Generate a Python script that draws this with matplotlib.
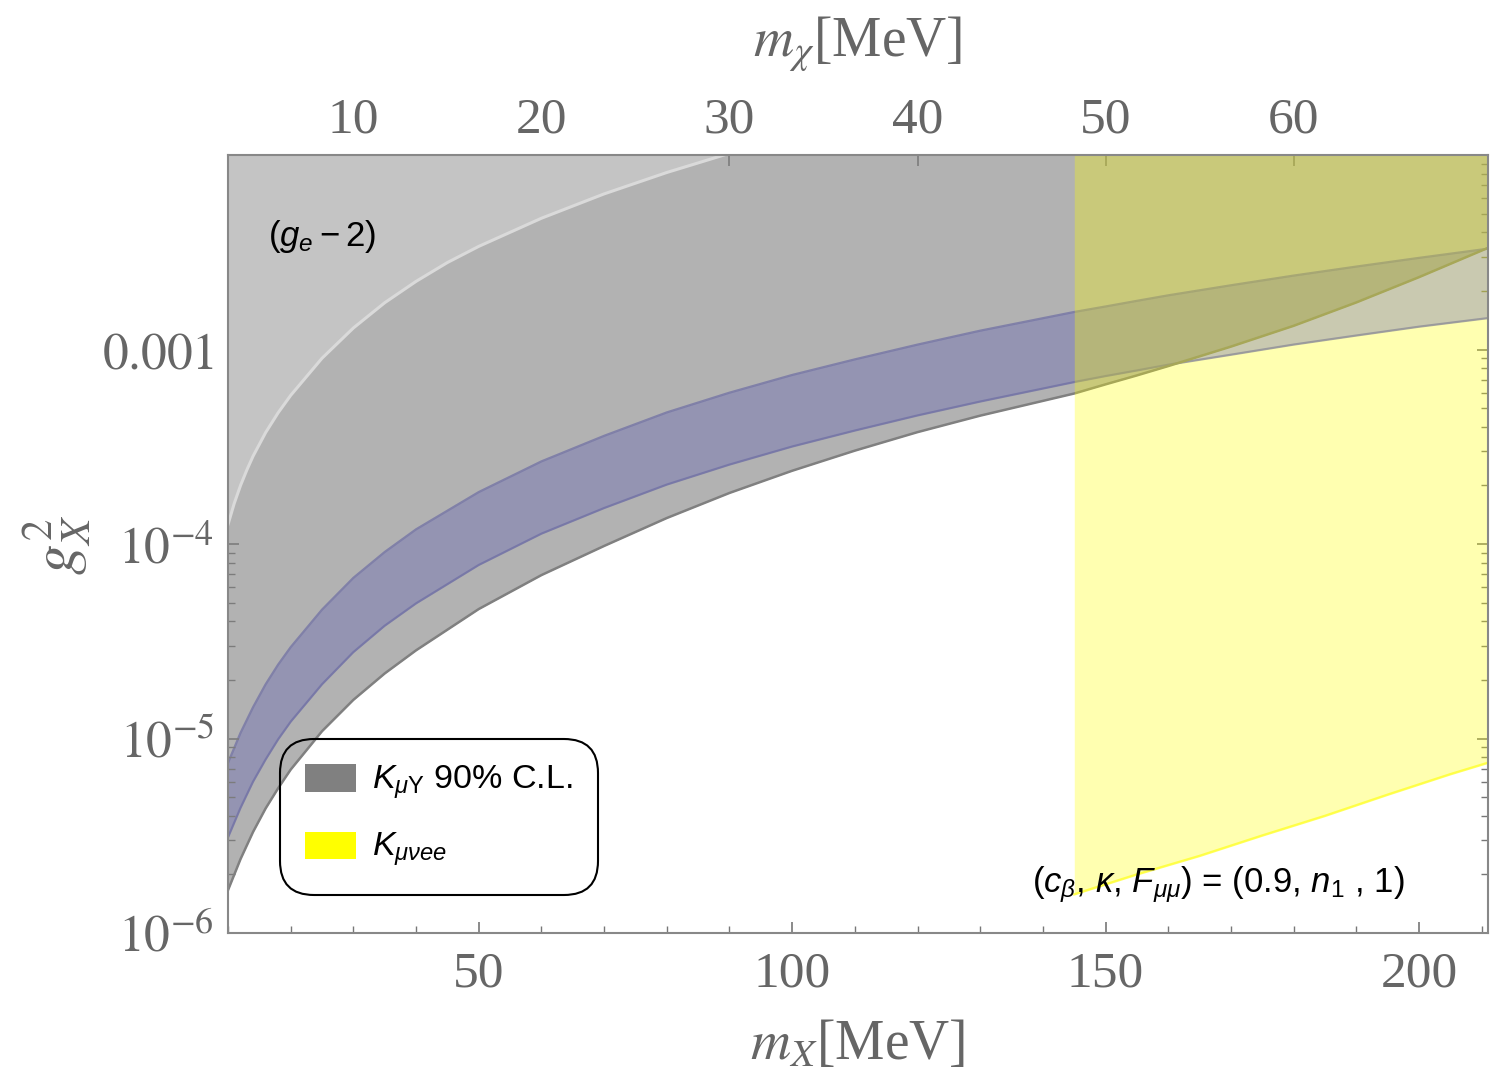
import numpy as np
import matplotlib
matplotlib.use('Agg')
import matplotlib.pyplot as plt
from matplotlib.patches import Patch
from matplotlib.ticker import FixedLocator, LogLocator, MultipleLocator, NullLocator, NullFormatter

plt.rcParams['font.family'] = ['Liberation Sans', 'DejaVu Sans']
plt.rcParams['mathtext.fontset'] = 'custom'
plt.rcParams['mathtext.rm'] = 'Liberation Sans'
plt.rcParams['mathtext.it'] = 'Liberation Sans:italic'
plt.rcParams['mathtext.bf'] = 'Liberation Sans:bold'

# datos (m_X en MeV, g_X^2)
mx = [10, 12, 14, 16, 18, 20, 25, 30, 35, 40, 50, 60, 70, 80, 90, 100,
      110, 120, 130, 145, 150, 155, 160, 170, 180, 190, 200, 211]
banda_sup = [7.5e-6, 1.07e-5, 1.45e-5, 1.9e-5, 2.4e-5, 2.95e-5, 4.6e-5, 6.7e-5,
             9.1e-5, 1.19e-4, 1.85e-4, 2.66e-4, 3.6e-4, 4.75e-4, 6.0e-4, 7.4e-4,
             8.9e-4, 1.06e-3, 1.25e-3, 1.56e-3, 1.665e-3, 1.78e-3, 1.9e-3, 2.14e-3,
             2.4e-3, 2.67e-3, 2.96e-3, 3.3e-3]
banda_inf = [3.1e-6, 4.4e-6, 6.0e-6, 7.8e-6, 9.9e-6, 1.22e-5, 1.9e-5, 2.78e-5,
             3.8e-5, 4.95e-5, 7.8e-5, 1.13e-4, 1.53e-4, 2.02e-4, 2.56e-4, 3.17e-4,
             3.83e-4, 4.58e-4, 5.4e-4, 6.8e-4, 7.3e-4, 7.8e-4, 8.35e-4, 9.4e-4,
             1.06e-3, 1.18e-3, 1.31e-3, 1.45e-3]
kmug_inf = [1.66e-6, 2.4e-6, 3.31e-6, 4.37e-6, 5.55e-6, 6.92e-6, 1.09e-5, 1.58e-5,
            2.16e-5, 2.84e-5, 4.63e-5, 6.92e-5, 9.77e-5, 1.36e-4, 1.83e-4, 2.38e-4,
            3.02e-4, 3.76e-4, 4.57e-4, 5.94e-4, 6.62e-4, 7.36e-4, 8.22e-4, 1.035e-3,
            1.324e-3, 1.746e-3, 2.355e-3, 3.33e-3]

mx_ge = [10, 11, 12, 13, 14, 16, 18, 20, 25, 30, 35, 40, 45, 50, 60, 70, 80, 90]
ge2 = [1.26e-4, 1.62e-4, 2.0e-4, 2.4e-4, 2.83e-4, 3.74e-4, 4.73e-4, 5.81e-4, 9.02e-4,
       1.29e-3, 1.74e-3, 2.24e-3, 2.8e-3, 3.39e-3, 4.73e-3, 6.31e-3, 8.13e-3, 1.02e-2]

mx_kee = [145, 155, 165, 175, 185, 195, 205, 211]
kee_inf = [1.58e-6, 2.0e-6, 2.49e-6, 3.17e-6, 4.0e-6, 5.14e-6, 6.55e-6, 7.5e-6]

ytop = 1e-2
ymin = 1e-6
gris_txt = '#666666'

fig = plt.figure(figsize=(15, 10.86), dpi=100)
ax = fig.add_axes([228/1500, 1-933/1086, 1260/1500, 778/1086])

# banda azul
ax.fill_between(mx, banda_inf, banda_sup, color='#0000ff', alpha=0.3, lw=0, zorder=1)
ax.plot(mx, banda_sup, color='#5050d8', alpha=0.7, lw=1.6, zorder=1.1)
ax.plot(mx, banda_inf, color='#5050d8', alpha=0.7, lw=1.6, zorder=1.1)

# K_muY
ax.fill_between(mx, kmug_inf, ytop, color='#808080', alpha=0.6, lw=0, zorder=2)
ax.plot(mx, kmug_inf, color='#808080', lw=1.8, zorder=2.1)

# (g_e - 2)
ax.fill_between(mx_ge, ge2, ytop, color='#c4c4c4', lw=0, zorder=3)
ax.plot(mx_ge, ge2, color='#dadada', lw=2.2, zorder=3.1)

# K_munuee
ax.fill_between(mx_kee, kee_inf, ytop, color='#ffff00', alpha=0.31, lw=0, zorder=4)
ax.plot(mx_kee, kee_inf, color='#ffff00', alpha=0.6, lw=1.8, zorder=4.1)

ax.set_yscale('log')
ax.set_xlim(10, 211)
ax.set_ylim(ymin, ytop)

for s in ax.spines.values():
    s.set_color('#888888')
    s.set_linewidth(1.5)
    s.set_zorder(10)

ax.xaxis.set_major_locator(FixedLocator([50, 100, 150, 200]))
ax.xaxis.set_minor_locator(MultipleLocator(10))
ax.set_xticklabels(['50', '100', '150', '200'], fontsize=37, color=gris_txt,
                   family='Liberation Serif')
ax.yaxis.set_major_locator(FixedLocator([1e-6, 1e-5, 1e-4, 1e-3]))
ax.yaxis.set_minor_locator(LogLocator(base=10, subs=np.arange(2, 10)))
ax.yaxis.set_minor_formatter(NullFormatter())
ax.set_yticklabels([r'$10^{-6}$', r'$10^{-5}$', r'$10^{-4}$', r'$0.001$'],
                   fontsize=37, color=gris_txt, math_fontfamily='stix')
ax.tick_params(which='both', direction='in', color='#777777', top=False, right=True)
ax.tick_params(which='major', length=8, width=1.2)
ax.tick_params(which='minor', length=5, width=1.0)
ax.tick_params(axis='x', which='major', pad=13)
ax.tick_params(axis='y', which='major', pad=10)

# eje superior m_chi = m_X / 3
sec = ax.secondary_xaxis('top', functions=(lambda x: x / 3, lambda x: x * 3))
sec.xaxis.set_major_locator(FixedLocator([10, 20, 30, 40, 50, 60]))
sec.xaxis.set_minor_locator(NullLocator())
sec.set_xticklabels(['10', '20', '30', '40', '50', '60'], fontsize=37, color=gris_txt,
                    family='Liberation Serif')
sec.tick_params(direction='in', length=8, width=1.2, color='#777777', pad=8)
sec.spines['top'].set_visible(False)

fig.text(858/1500, 1-1045/1086, r'$m_X$[MeV]', ha='center', va='center', fontsize=40,
         color=gris_txt, family='Liberation Serif', math_fontfamily='stix')
fig.text(858/1500, 1-44/1086, r'$m_\chi$[MeV]', ha='center', va='center', fontsize=40,
         color=gris_txt, family='Liberation Serif', math_fontfamily='stix')
fig.text(57/1500, 1-545/1086, r'$g_X^2$', ha='center', va='center', rotation=90,
         fontsize=44, color=gris_txt, math_fontfamily='stix')

ax.text(0.032, 0.895, r'$(g_e - 2)$', transform=ax.transAxes, fontsize=25,
        ha='left', va='center', zorder=12)
ax.text(0.638, 0.062, r'($c_\beta$, $\kappa$, $F_{\mu\mu}$) = (0.9, $n_1$ , 1)',
        transform=ax.transAxes, fontsize=25, ha='left', va='center', zorder=12)

handles = [Patch(facecolor='#808080', edgecolor='none'),
           Patch(facecolor='#ffff00', edgecolor='none')]
leg = ax.legend(handles, [r'$K_{\mu\mathrm{Y}}$ 90% C.L.', r'$K_{\mu\nu ee}$'],
                loc='lower left', bbox_to_anchor=(0.041, 0.049), borderaxespad=0,
                fontsize=24.5, handlelength=1.5, handleheight=0.85, labelspacing=0.85,
                borderpad=0.75, handletextpad=0.45, fancybox=True, framealpha=1)
fr = leg.get_frame()
fr.set_facecolor('none')
fr.set_edgecolor('black')
fr.set_linewidth(1.5)
fr.set_boxstyle('round', pad=0, rounding_size=1.0)
leg.set_zorder(12)

fig.savefig('out.png', dpi=100)
